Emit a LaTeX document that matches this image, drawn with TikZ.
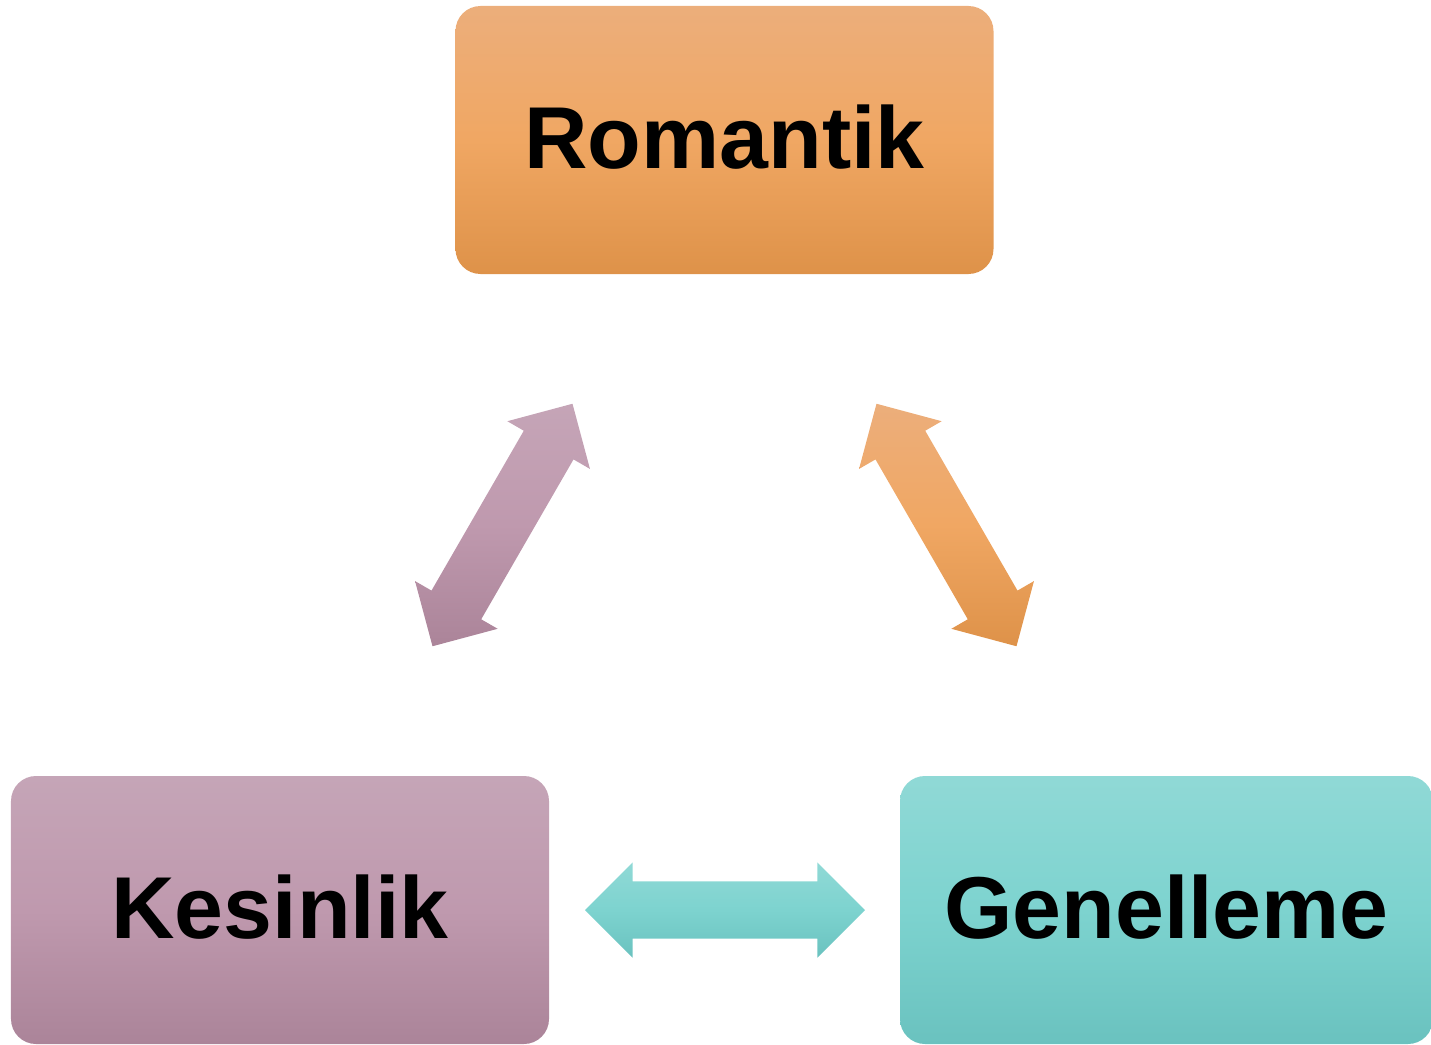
\documentclass[tikz,border=0pt]{standalone}
\usepackage{fontspec}
\setmainfont{Liberation Sans}
\usetikzlibrary{positioning,shapes.arrows}
\definecolor{romTop}{HTML}{ECAE7B}
\definecolor{romMid}{HTML}{F0A763}
\definecolor{romBot}{HTML}{DE9249}
\definecolor{kesTop}{HTML}{C5A5B7}
\definecolor{kesMid}{HTML}{BF99AE}
\definecolor{kesBot}{HTML}{AB8499}
\definecolor{genTop}{HTML}{90D9D6}
\definecolor{genMid}{HTML}{7DD3CF}
\definecolor{genBot}{HTML}{6AC2BF}
\tikzset{
box/.style={
  rectangle, rounded corners=0.25cm,
  minimum width=5.38cm, minimum height=2.68cm,
  text depth=0.06cm,
  font=\fontsize{25}{30}\selectfont\bfseries
},
dbl/.style={
  double arrow, inner xsep=0pt, inner ysep=0.28cm,
  minimum height=2.8cm,
  double arrow head extend=0.19cm,
  double arrow tip angle=90
},
rom/.style={top color=romTop, bottom color=romBot, middle color=romMid},
kes/.style={top color=kesTop, bottom color=kesBot, middle color=kesMid},
gen/.style={top color=genTop, bottom color=genBot, middle color=genMid},
}

\begin{document}
\begin{tikzpicture}
            \useasboundingbox (0,0) rectangle (14.31,-10.45);

            \node[box, rom] (romantik) at (7.245,-1.40) {Romantik};
            \node[box, kes] (kesinlik) at (2.80,-9.10) {Kesinlik};
            \node[box, gen, minimum width=5.33cm] (genelleme) at (11.665,-9.10) {Genelleme};

            % arrows between the boxes
            \node[dbl, kes, rotate=60] (rk) at (5.025,-5.25) {};
            \node[dbl, rom, rotate=-60] (rg) at (9.465,-5.25) {};
            \node[dbl, gen] (kg) at (7.25,-9.10) {};
        \end{tikzpicture}
\end{document}
